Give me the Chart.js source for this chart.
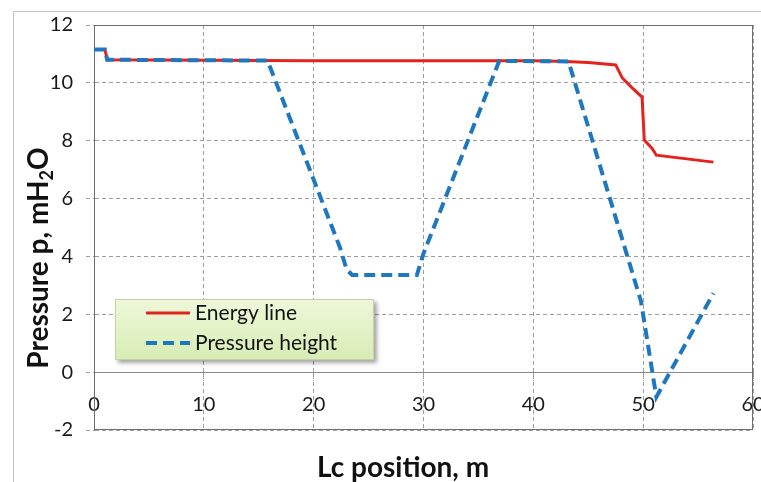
<!DOCTYPE html>
<html><head><meta charset="utf-8">
<script src="https://cdn.jsdelivr.net/npm/chart.js@4.4.1/dist/chart.umd.min.js"></script>
<style>html,body{margin:0;padding:0;background:#fff;}#wrap{position:relative;width:761px;height:482px;}</style>
</head><body><div id="wrap"><canvas id="c" width="761" height="482"></canvas></div>
<script>
// ---- data ----
const xTicks = [0, 10, 20, 30, 40, 50, 60];
const yTicks = [-2, 0, 2, 4, 6, 8, 10, 12];
const seriesNames = ['Energy line', 'Pressure height'];
const xTitle = 'Lc position, m';
const yTitleParts = ['Pressure p, mH', '2', 'O'];

const energyX = [0, 1.0, 1.2, 10, 20, 30, 40, 43, 45, 47.5, 48.1, 48.9, 49.9, 50.1, 50.8, 51.2, 56.4];
const energyY = [11.15, 11.15, 10.8, 10.78, 10.76, 10.76, 10.76, 10.74, 10.7, 10.62, 10.17, 9.86, 9.51, 8.02, 7.74, 7.5, 7.26];

const pressureX = [0, 1.0, 1.2, 10, 15.8, 22.4, 23.0, 23.5, 29.4, 30.0, 36.9, 43.2, 48.5, 49.8, 51.2, 56.4];
const pressureY = [11.15, 11.15, 10.8, 10.78, 10.77, 4.3, 3.55, 3.36, 3.36, 4.1, 10.76, 10.74, 4.08, 2.45, -0.86, 2.73];

const toPts = (xs, ys) => xs.map((x, i) => ({x: x, y: ys[i]}));

const FONT = 'Lato, "Open Sans", sans-serif';
const RED = '#e3241d';
const BLUE = '#1f77c0';

const decor = {
  id: 'decor',
  beforeDraw(chart) {
    const ctx = chart.ctx;
    ctx.save();
    ctx.fillStyle = '#fff';
    ctx.fillRect(0, 0, chart.width, chart.height);
    ctx.strokeStyle = '#c4c4c4';
    ctx.lineWidth = 1;
    ctx.beginPath();
    ctx.moveTo(13.5, chart.height);
    ctx.lineTo(13.5, 11.5);
    ctx.lineTo(chart.width, 11.5);
    ctx.stroke();
    ctx.restore();
  },
  beforeDatasetsDraw(chart) {
    const a = chart.chartArea, ctx = chart.ctx;
    ctx.save();
    ctx.strokeStyle = '#6e6e6e';
    ctx.lineWidth = 1;
    ctx.strokeRect(Math.round(a.left) + 0.5, Math.round(a.top) + 0.5, Math.round(a.right - a.left) - 1, Math.round(a.bottom - a.top) - 1);
    ctx.restore();
  },
  afterDraw(chart) {
    const ctx = chart.ctx;
    ctx.save();
    // legend box
    const L = {x: 115, y: 299, w: 259, h: 61};
    ctx.shadowColor = 'rgba(0,0,0,0.35)';
    ctx.shadowOffsetX = 3; ctx.shadowOffsetY = 3; ctx.shadowBlur = 4;
    const g = ctx.createLinearGradient(0, L.y, 0, L.y + L.h);
    g.addColorStop(0, '#eff8db');
    g.addColorStop(1, '#d7edb3');
    ctx.fillStyle = g;
    ctx.fillRect(L.x, L.y, L.w, L.h);
    ctx.shadowColor = 'rgba(0,0,0,0)';
    ctx.strokeStyle = '#c3d3a6';
    ctx.lineWidth = 1;
    ctx.strokeRect(L.x + 0.5, L.y + 0.5, L.w - 1, L.h - 1);
    chart.data.datasets.forEach((ds, i) => {
      const y = L.y + 14 + i * 30;
      ctx.save();
      ctx.strokeStyle = ds.borderColor;
      ctx.lineWidth = ds.borderWidth;
      ctx.setLineDash(ds.borderDash || []);
      ctx.beginPath();
      ctx.moveTo(L.x + 31, y);
      ctx.lineTo(L.x + 75, y);
      ctx.stroke();
      ctx.restore();
      ctx.fillStyle = '#111';
      ctx.font = '21px ' + FONT;
      ctx.textBaseline = 'middle';
      ctx.textAlign = 'left';
      ctx.fillText(ds.label, L.x + 80, y);
    });
    // x title
    ctx.fillStyle = '#111';
    ctx.font = 'bold 28px ' + FONT;
    ctx.textAlign = 'center';
    ctx.textBaseline = 'alphabetic';
    ctx.fillText(xTitle, 403, 477);
    // y title with subscript
    ctx.translate(48, 258);
    ctx.rotate(-Math.PI / 2);
    const big = 'bold 28px ' + FONT, small = 'bold 18px ' + FONT;
    ctx.font = big; const w0 = ctx.measureText(yTitleParts[0]).width;
    ctx.font = small; const w1 = ctx.measureText(yTitleParts[1]).width;
    ctx.font = big; const w2 = ctx.measureText(yTitleParts[2]).width;
    let x = -(w0 + w1 + w2) / 2;
    ctx.textAlign = 'left';
    ctx.font = big; ctx.fillText(yTitleParts[0], x, 0); x += w0;
    ctx.font = small; ctx.fillText(yTitleParts[1], x, 5); x += w1;
    ctx.font = big; ctx.fillText(yTitleParts[2], x, 0);
    ctx.restore();
  }
};

new Chart(document.getElementById('c'), {
  type: 'line',
  data: {
    datasets: [
      {label: seriesNames[0], data: toPts(energyX, energyY), borderColor: RED, borderWidth: 3, pointRadius: 0, fill: false, tension: 0, order: 1},
      {label: seriesNames[1], data: toPts(pressureX, pressureY), borderColor: BLUE, borderWidth: 4, borderDash: [11, 6], pointRadius: 0, fill: false, tension: 0, order: 0}
    ]
  },
  options: {
    responsive: false,
    animation: false,
    devicePixelRatio: 1,
    layout: {padding: {left: 0, top: 25, right: 8, bottom: 52}},
    plugins: {legend: {display: false}, tooltip: {enabled: false}},
    scales: {
      x: {
        type: 'linear', min: xTicks[0], max: xTicks[xTicks.length - 1],
        position: {y: 0},
        afterBuildTicks: s => { s.ticks = xTicks.map(v => ({value: v})); },
        afterFit: s => { s.paddingLeft = 0; s.paddingRight = 0; },
        ticks: {color: '#1a1a1a', font: {family: FONT, size: 20}, padding: 12, maxRotation: 0, autoSkip: false},
        grid: {color: '#9e9e9e', lineWidth: 1, tickLength: 8, tickBorderDash: [4, 3], tickColor: '#9e9e9e'},
        border: {display: true, color: '#8a8a8a', width: 1, dash: [4, 3]}
      },
      y: {
        type: 'linear', min: yTicks[0], max: yTicks[yTicks.length - 1],
        afterBuildTicks: s => { s.ticks = yTicks.map(v => ({value: v})); },
        afterFit: s => { s.width = 94; s.paddingTop = 0; s.paddingBottom = 0; },
        ticks: {color: '#1a1a1a', font: {family: FONT, size: 20}, padding: 13, autoSkip: false},
        grid: {color: '#9e9e9e', lineWidth: 1, tickLength: 8, tickBorderDash: [4, 3], tickColor: '#9e9e9e'},
        border: {display: true, color: '#8a8a8a', width: 1, dash: [4, 3]}
      }
    }
  },
  plugins: [decor]
});
</script></body></html>
